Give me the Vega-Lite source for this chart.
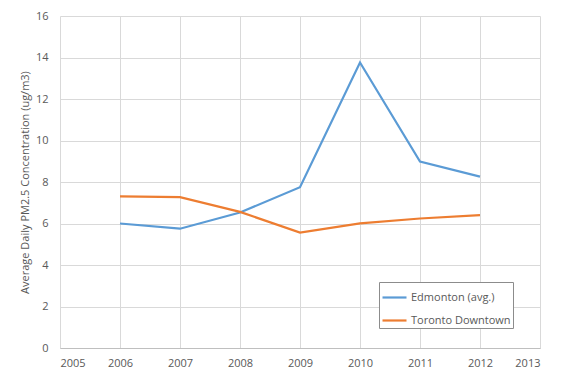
{
  "$schema": "https://vega.github.io/schema/vega-lite/v6.json",
  "width": 480,
  "height": 332,
  "autosize": {"type": "none"},
  "padding": {"left": 60, "top": 16, "right": 27, "bottom": 31},
  "background": "white",
  "config": {
    "view": {"stroke": null},
    "font": "Open Sans",
    "axis": {
      "gridColor": "#d9d9d9",
      "gridWidth": 1,
      "ticks": false,
      "labelColor": "#595959",
      "labelFontSize": 11,
      "titleColor": "#595959",
      "titleFontSize": 11,
      "titleFontWeight": "normal",
      "domainColor": "#bfbfbf"
    }
  },
  "data": {
    "values": [
      {"year": 2006, "series": "Edmonton (avg.)", "pm": 6.0},
      {"year": 2007, "series": "Edmonton (avg.)", "pm": 5.75},
      {"year": 2008, "series": "Edmonton (avg.)", "pm": 6.53},
      {"year": 2009, "series": "Edmonton (avg.)", "pm": 7.75},
      {"year": 2010, "series": "Edmonton (avg.)", "pm": 13.76},
      {"year": 2011, "series": "Edmonton (avg.)", "pm": 8.99},
      {"year": 2012, "series": "Edmonton (avg.)", "pm": 8.26},
      {"year": 2006, "series": "Toronto Downtown", "pm": 7.31},
      {"year": 2007, "series": "Toronto Downtown", "pm": 7.27},
      {"year": 2008, "series": "Toronto Downtown", "pm": 6.56},
      {"year": 2009, "series": "Toronto Downtown", "pm": 5.56},
      {"year": 2010, "series": "Toronto Downtown", "pm": 6.01},
      {"year": 2011, "series": "Toronto Downtown", "pm": 6.24},
      {"year": 2012, "series": "Toronto Downtown", "pm": 6.40}
    ]
  },
  "mark": {"type": "line", "strokeWidth": 2.2},
  "encoding": {
    "x": {
      "field": "year",
      "type": "quantitative",
      "scale": {"domain": [2005, 2013], "nice": false, "zero": false},
      "axis": {"values": [2005, 2006, 2007, 2008, 2009, 2010, 2011, 2012, 2013], "format": "d", "title": null, "labelPadding": 9}
    },
    "y": {
      "field": "pm",
      "type": "quantitative",
      "scale": {"domain": [0, 16], "nice": false},
      "axis": {"values": [0, 2, 4, 6, 8, 10, 12, 14, 16], "title": "Average Daily PM2.5 Concentration (ug/m3)", "domain": false, "labelPadding": 12, "titlePadding": 5}
    },
    "color": {
      "field": "series",
      "type": "nominal",
      "scale": {"domain": ["Edmonton (avg.)", "Toronto Downtown"], "range": ["#5B9BD5", "#ED7D31"]},
      "legend": {
        "title": null,
        "orient": "none",
        "legendX": 319,
        "legendY": 266,
        "strokeColor": "#8c8c8c",
        "fillColor": "white",
        "padding": 2,
        "rowPadding": 4,
        "symbolType": "stroke",
        "symbolSize": 576,
        "symbolStrokeWidth": 2.2,
        "labelFontSize": 11,
        "labelColor": "#595959",
        "labelOffset": 3
      }
    }
  }
}
